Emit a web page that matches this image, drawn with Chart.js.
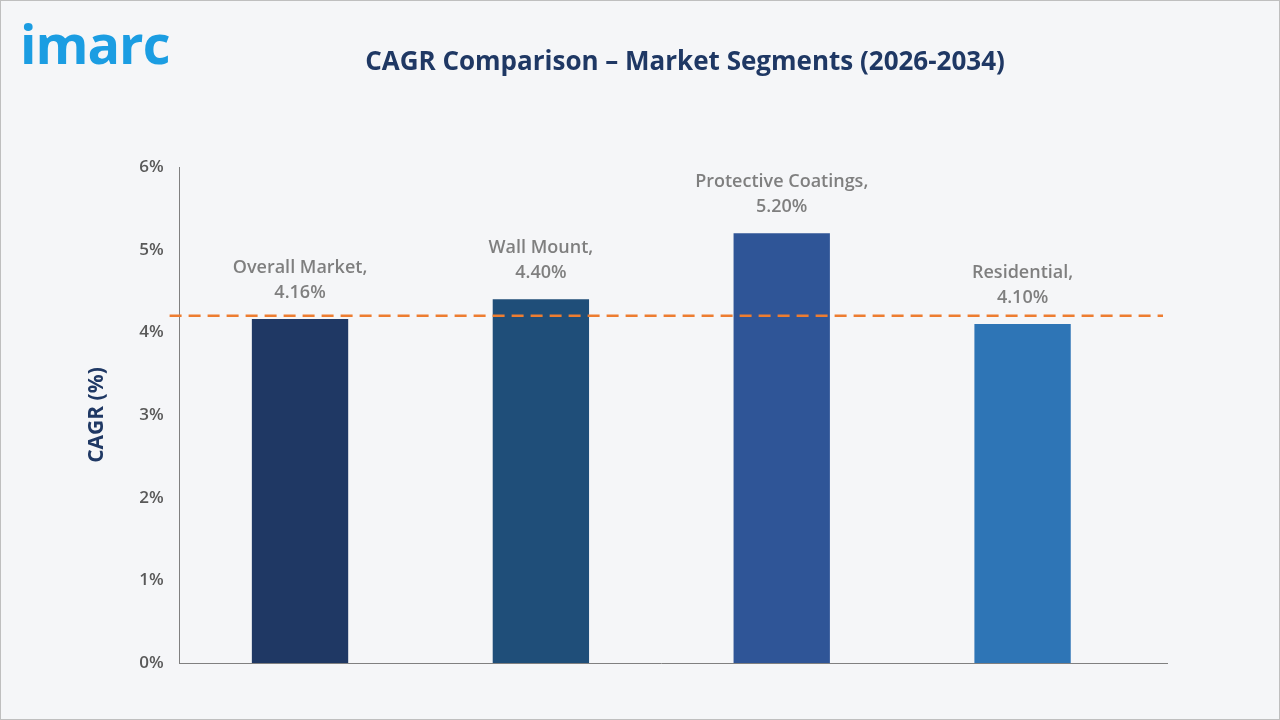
<!DOCTYPE html>
<html><head><meta charset="utf-8">
<script src="https://cdn.jsdelivr.net/npm/chart.js@4"></script>
<style>
html,body{margin:0;padding:0;background:#fff;}
#wrap{position:absolute;left:0;top:0;width:1278px;height:718px;border:1px solid #bfbfbf;background:#f5f6f8;}
#logo{position:absolute;left:20px;top:16px;font-family:"Open Sans",sans-serif;font-size:54px;font-weight:700;color:#1b9de2;letter-spacing:-1px;line-height:1;}
#title{position:absolute;left:0;width:1370px;top:42px;text-align:center;font-family:"Open Sans",sans-serif;font-weight:700;font-size:26px;color:#1f3864;}
#c{position:absolute;left:0;top:0;}
</style></head><body>
<div id="wrap"></div>
<canvas id="c" width="1280" height="720"></canvas>
<div id="logo">imarc</div>
<div id="title">CAGR Comparison – Market Segments (2026-2034)</div>
<script>
const categories=["Overall Market","Wall Mount","Protective Coatings","Residential"];
const values=[4.16,4.40,5.20,4.10];
const refLine=4.2;
const colors=["#1f3864","#1f4e79","#2f5597","#2e75b6"];
const labelPlugin={id:'lbl',afterDatasetsDraw(ch){const ctx=ch.ctx;const m=ch.getDatasetMeta(0);ctx.save();ctx.font='600 18px "Open Sans"';ctx.fillStyle='#7f7f7f';ctx.textAlign='center';ctx.textBaseline='middle';
m.data.forEach((b,i)=>{ctx.fillText(categories[i]+',',b.x,b.y-51);ctx.fillText(values[i].toFixed(2)+'%',b.x,b.y-26);});
const y=ch.scales.y.getPixelForValue(refLine);ctx.strokeStyle='#ed7d31';ctx.lineWidth=2.5;ctx.setLineDash([12,7]);ctx.beginPath();ctx.moveTo(ch.chartArea.left-10,y);ctx.lineTo(ch.chartArea.right+20,y);ctx.stroke();ctx.restore();}};
new Chart(document.getElementById('c'),{type:'bar',data:{labels:categories,datasets:[{data:values,backgroundColor:colors,barPercentage:0.4,categoryPercentage:1}]},
options:{responsive:false,animation:false,layout:{padding:{left:80,right:137,top:167,bottom:49}},
plugins:{legend:{display:false},tooltip:{enabled:false}},
scales:{x:{ticks:{display:false},grid:{display:false},border:{color:'#808080'}},
y:{min:0,max:6,ticks:{stepSize:1,callback:v=>v+'%',font:{family:'Open Sans',size:17,weight:'600'},color:'#595959',padding:8},
grid:{display:false,drawTicks:true},border:{color:'#808080'},
title:{display:true,text:'CAGR (%)',font:{family:'Open Sans',size:21,weight:'700'},color:'#1f3864',padding:{bottom:22}}}}},
plugins:[labelPlugin,{id:'ext',afterDraw(ch){const c=ch.ctx,a=ch.chartArea;c.save();c.strokeStyle='#808080';c.lineWidth=1;c.beginPath();c.moveTo(a.right,a.bottom+0.5);c.lineTo(a.right+25,a.bottom+0.5);c.stroke();c.restore();}}]});
</script></body></html>
